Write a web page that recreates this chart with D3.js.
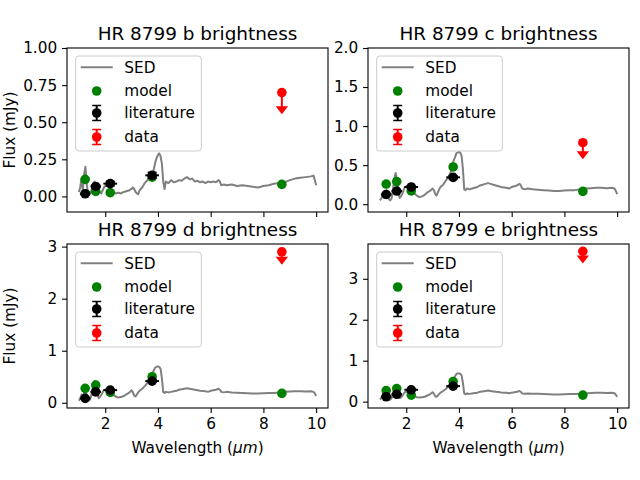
<!DOCTYPE html>
<meta charset="utf-8">
<script src="https://d3js.org/d3.v7.min.js"></script>
<style>
body { margin: 0; background: white; }
text { font-family: "DejaVu Sans", sans-serif; }
</style>
<svg id="fig" width="640" height="480"></svg>
<script>

// planets, one panel each
var planets = ["b", "c", "d", "e"];

// SED wavelength grid (micron)
var wl = [1.00,1.05,1.10,1.15,1.20,1.25,1.30,1.35,1.40,1.45,
          1.50,1.55,1.60,1.65,1.70,1.75,1.80,1.85,1.90,1.95,
          2.00,2.05,2.10,2.15,2.20,2.25,2.30,2.40,2.50,2.60,
          2.70,2.80,2.90,3.00,3.05,3.10,3.15,3.20,3.25,3.30,
          3.40,3.50,3.60,3.70,3.80,3.85,3.90,3.95,4.00,4.05,
          4.10,4.15,4.20,4.25,4.30,4.40,4.50,4.60,4.70,4.80,
          4.90,5.00,5.10,5.20,5.30,5.40,5.50,5.60,5.70,5.80,
          5.90,6.00,6.10,6.20,6.30,6.35,6.40,6.50,6.60,6.80,
          7.00,7.20,7.40,7.60,7.80,8.00,8.20,8.40,8.60,8.80,
          9.00,9.20,9.40,9.60,9.80,9.90,9.95,10.00];

var sedB = [0.03,0.06,0.12,0.04,0.15,0.20,0.08,0.02,0.03,0.02,
            0.06,0.09,0.10,0.08,0.05,0.03,0.03,0.02,0.04,0.06,
            0.07,0.075,0.07,0.06,0.05,0.04,0.03,0.02,0.025,0.02,
            0.03,0.035,0.04,0.05,0.06,0.05,0.03,0.02,0.015,0.04,
            0.06,0.09,0.11,0.13,0.15,0.19,0.23,0.26,0.28,0.29,
            0.27,0.22,0.10,0.05,0.10,0.09,0.11,0.095,0.10,0.11,
            0.105,0.12,0.13,0.115,0.12,0.10,0.105,0.095,0.10,0.09,
            0.10,0.095,0.10,0.095,0.11,0.10,0.075,0.08,0.075,0.08,
            0.07,0.075,0.07,0.065,0.06,0.07,0.075,0.085,0.09,0.095,
            0.11,0.12,0.125,0.13,0.135,0.14,0.11,0.075];

var sedC = [0.05,0.07,0.12,0.08,0.15,0.18,0.10,0.06,0.05,0.08,
            0.20,0.33,0.40,0.30,0.15,0.08,0.10,0.13,0.18,0.22,
            0.23,0.22,0.21,0.20,0.19,0.17,0.14,0.11,0.09,0.10,
            0.12,0.15,0.17,0.20,0.18,0.13,0.11,0.15,0.19,0.22,
            0.25,0.30,0.35,0.42,0.56,0.60,0.65,0.66,0.67,0.66,
            0.62,0.45,0.19,0.18,0.20,0.19,0.20,0.21,0.22,0.24,
            0.25,0.26,0.27,0.26,0.25,0.24,0.23,0.22,0.215,0.21,
            0.20,0.22,0.23,0.24,0.26,0.24,0.20,0.19,0.20,0.19,
            0.185,0.18,0.175,0.17,0.17,0.175,0.18,0.18,0.19,0.20,
            0.205,0.21,0.21,0.205,0.21,0.20,0.17,0.13];

var sedD = [0.04,0.08,0.16,0.10,0.20,0.26,0.12,0.06,0.05,0.10,
            0.22,0.36,0.42,0.33,0.17,0.09,0.11,0.15,0.20,0.24,
            0.25,0.24,0.23,0.22,0.21,0.18,0.15,0.12,0.10,0.11,
            0.13,0.16,0.19,0.24,0.20,0.14,0.12,0.16,0.20,0.23,
            0.27,0.32,0.38,0.45,0.58,0.63,0.68,0.69,0.70,0.69,
            0.65,0.47,0.21,0.19,0.21,0.20,0.21,0.22,0.23,0.25,
            0.26,0.27,0.28,0.27,0.26,0.25,0.24,0.23,0.225,0.22,
            0.21,0.23,0.24,0.25,0.27,0.25,0.21,0.20,0.21,0.20,
            0.195,0.19,0.185,0.18,0.18,0.185,0.19,0.19,0.20,0.21,
            0.215,0.22,0.22,0.215,0.22,0.21,0.18,0.13];

var sedE = [0.05,0.08,0.15,0.09,0.19,0.24,0.11,0.06,0.05,0.09,
            0.21,0.34,0.40,0.31,0.16,0.09,0.10,0.14,0.19,0.23,
            0.24,0.23,0.22,0.21,0.20,0.17,0.14,0.11,0.10,0.11,
            0.12,0.15,0.18,0.23,0.19,0.13,0.12,0.15,0.19,0.22,
            0.26,0.31,0.37,0.44,0.57,0.62,0.67,0.69,0.69,0.68,
            0.64,0.46,0.20,0.18,0.20,0.19,0.20,0.21,0.22,0.24,
            0.25,0.26,0.27,0.26,0.25,0.24,0.235,0.225,0.22,0.215,
            0.205,0.22,0.23,0.24,0.26,0.24,0.20,0.195,0.20,0.195,
            0.19,0.185,0.18,0.175,0.175,0.18,0.185,0.185,0.195,0.20,
            0.21,0.215,0.215,0.21,0.215,0.205,0.17,0.12];

var seds = [sedB, sedC, sedD, sedE];

// model photometry (green)
var modelWl = [1.24, 1.64, 2.19, 3.78, 8.7];
var modelB = [0.115, 0.034, 0.025, 0.13, 0.081];
var modelC = [0.258, 0.29, 0.17, 0.477, 0.164];
var modelD = [0.277, 0.34, 0.20, 0.50, 0.18];
var modelE = [0.27, 0.32, 0.16, 0.49, 0.16];
var models = [modelB, modelC, modelD, modelE];

// literature photometry (black)
var litWl = [1.24, 1.64, 2.19, 3.78];
var litXerr = [0.2, 0.2, 0.26, 0.26];
var litYerr = [0.01, 0.01, 0.015, 0.02];
var litB = [0.018, 0.067, 0.086, 0.142];
var litC = [0.125, 0.168, 0.22, 0.344];
var litD = [0.085, 0.21, 0.244, 0.417];
var litE = [0.12, 0.18, 0.29, 0.38];
var lits = [litB, litC, litD, litE];

// our data: upper limits (red)
var dataWl = 8.7;
var dataFlux = [0.70, 0.787, 2.90, 3.67];
var dataErr = [0.12, 0.16, 0.17, 0.20];

// axes
var xDomain = [0.55, 10.45];
var xTicks = [2, 4, 6, 8, 10];
var yMin = [-0.105, -0.1, -0.1, -0.155];
var yMax = [1.0, 2.0, 3.05, 3.85];
var yTicks = [[0, 0.25, 0.5, 0.75, 1.0], [0, 0.5, 1.0, 1.5, 2.0], [0, 1, 2, 3], [0, 1, 2, 3]];
var yFormats = [".2f", ".1f", "d", "d"];


var svg = d3.select("#fig");
var cols = [67, 368], rows = [48, 244];
var pw = 261, ph = 164;
var fs = 15.3;

planets.forEach(function(p, i) {

    var x0 = cols[i % 2], y0 = rows[Math.floor(i / 2)];
    var bottomRow = i >= 2, leftCol = i % 2 == 0;

    var x = d3.scaleLinear().domain(xDomain).range([x0, x0 + pw]);
    var y = d3.scaleLinear().domain([yMin[i], yMax[i]]).range([y0 + ph, y0]);

    var g = svg.append("g");

    // SED
    g.append("path")
        .datum(wl.map(function(w, k) { return [w, seds[i][k]]; }))
        .attr("fill", "none")
        .attr("stroke", "gray")
        .attr("stroke-width", 2)
        .attr("stroke-linejoin", "round")
        .attr("d", d3.line().x(function(d) { return x(d[0]); }).y(function(d) { return y(d[1]); }));

    // model
    g.selectAll(".model").data(modelWl).enter().append("circle")
        .attr("cx", function(d) { return x(d); })
        .attr("cy", function(d, k) { return y(models[i][k]); })
        .attr("r", 4.8)
        .attr("fill", "green");

    // literature with error bars
    litWl.forEach(function(w, k) {
        var v = lits[i][k];
        g.append("line")
            .attr("x1", x(w - litXerr[k])).attr("x2", x(w + litXerr[k]))
            .attr("y1", y(v)).attr("y2", y(v))
            .attr("stroke", "black").attr("stroke-width", 2);
        errbar(g, x(w), y(v - litYerr[k]), x(w), y(v + litYerr[k]), "black");
        g.append("circle").attr("cx", x(w)).attr("cy", y(v)).attr("r", 4.8).attr("fill", "black");
    });

    // data, upper limit
    var dy = y(dataFlux[i] - dataErr[i]);
    g.append("line")
        .attr("x1", x(dataWl)).attr("x2", x(dataWl))
        .attr("y1", y(dataFlux[i])).attr("y2", dy)
        .attr("stroke", "red").attr("stroke-width", 2);
    g.append("path")
        .attr("d", "M-6.2,-4L6.2,-4L0,4Z")
        .attr("transform", "translate(" + x(dataWl) + "," + dy + ")")
        .attr("fill", "red");
    g.append("circle").attr("cx", x(dataWl)).attr("cy", y(dataFlux[i])).attr("r", 4.8).attr("fill", "red");

    // axes
    var xa = svg.append("g")
        .attr("transform", "translate(0," + (y0 + ph) + ")")
        .call(d3.axisBottom(x).tickValues(xTicks).tickSize(4.9).tickPadding(4.9)
            .tickFormat(bottomRow ? d3.format("d") : ""));
    var ya = svg.append("g")
        .attr("transform", "translate(" + x0 + ",0)")
        .call(d3.axisLeft(y).tickValues(yTicks[i]).tickSize(4.9).tickPadding(4.9)
            .tickFormat(d3.format(yFormats[i])));
    [xa, ya].forEach(function(a) {
        a.select(".domain").remove();
        a.attr("font-family", "DejaVu Sans").attr("font-size", fs);
        a.selectAll("line").attr("stroke", "black").attr("stroke-width", 1.1);
        a.selectAll("text").attr("fill", "black");
    });

    svg.append("rect")
        .attr("x", x0).attr("y", y0).attr("width", pw).attr("height", ph)
        .attr("fill", "none").attr("stroke", "black").attr("stroke-width", 1.1);

    // title
    svg.append("text")
        .attr("x", x0 + pw / 2).attr("y", y0 - 8)
        .attr("text-anchor", "middle")
        .attr("font-size", 18.4)
        .text("HR 8799 " + p + " brightness");

    if (leftCol) {
        svg.append("text")
            .attr("transform", "translate(14.5," + (y0 + ph / 2) + ") rotate(-90)")
            .attr("text-anchor", "middle")
            .attr("font-size", fs)
            .text("Flux (mJy)");
    }
    if (bottomRow) {
        var xl = svg.append("text")
            .attr("x", x0 + pw / 2).attr("y", 452.5)
            .attr("text-anchor", "middle")
            .attr("font-size", fs);
        xl.append("tspan").text("Wavelength (");
        xl.append("tspan").attr("font-style", "italic").text("\u03bcm");
        xl.append("tspan").text(")");
    }

    legend(x0 + 8.7, y0 + 8);
});


// vertical error bar with caps
function errbar(g, xa, ya, xb, yb, color) {
    g.append("line").attr("x1", xa).attr("y1", ya).attr("x2", xb).attr("y2", yb)
        .attr("stroke", color).attr("stroke-width", 2);
    [[xa, ya], [xb, yb]].forEach(function(e) {
        g.append("line").attr("x1", e[0] - 4.5).attr("x2", e[0] + 4.5).attr("y1", e[1]).attr("y2", e[1])
            .attr("stroke", color).attr("stroke-width", 1.5);
    });
}


function legend(lx, ly) {
    var lg = svg.append("g");
    lg.append("rect")
        .attr("x", lx).attr("y", ly).attr("width", 125.6).attr("height", 95)
        .attr("rx", 3).attr("fill", "white").attr("fill-opacity", 0.8)
        .attr("stroke", "#cccccc").attr("stroke-width", 1);

    var labels = ["SED", "model", "literature", "data"];
    var rowsY = [11.3, 35, 57, 81];
    var hx = lx + 21;

    lg.append("line").attr("x1", lx + 5).attr("x2", lx + 37)
        .attr("y1", ly + rowsY[0]).attr("y2", ly + rowsY[0])
        .attr("stroke", "gray").attr("stroke-width", 2);
    lg.append("circle").attr("cx", hx).attr("cy", ly + rowsY[1]).attr("r", 4.8).attr("fill", "green");

    ["black", "red"].forEach(function(c, k) {
        var cy = ly + rowsY[2 + k];
        errbar(lg, hx, cy - 7.5, hx, cy + 7.5, c);
        lg.append("circle").attr("cx", hx).attr("cy", cy).attr("r", 4.8).attr("fill", c);
    });

    labels.forEach(function(t, k) {
        lg.append("text")
            .attr("x", lx + 48.6).attr("y", ly + rowsY[k])
            .attr("dy", "0.35em")
            .attr("font-size", fs)
            .text(t);
    });
}

</script>
